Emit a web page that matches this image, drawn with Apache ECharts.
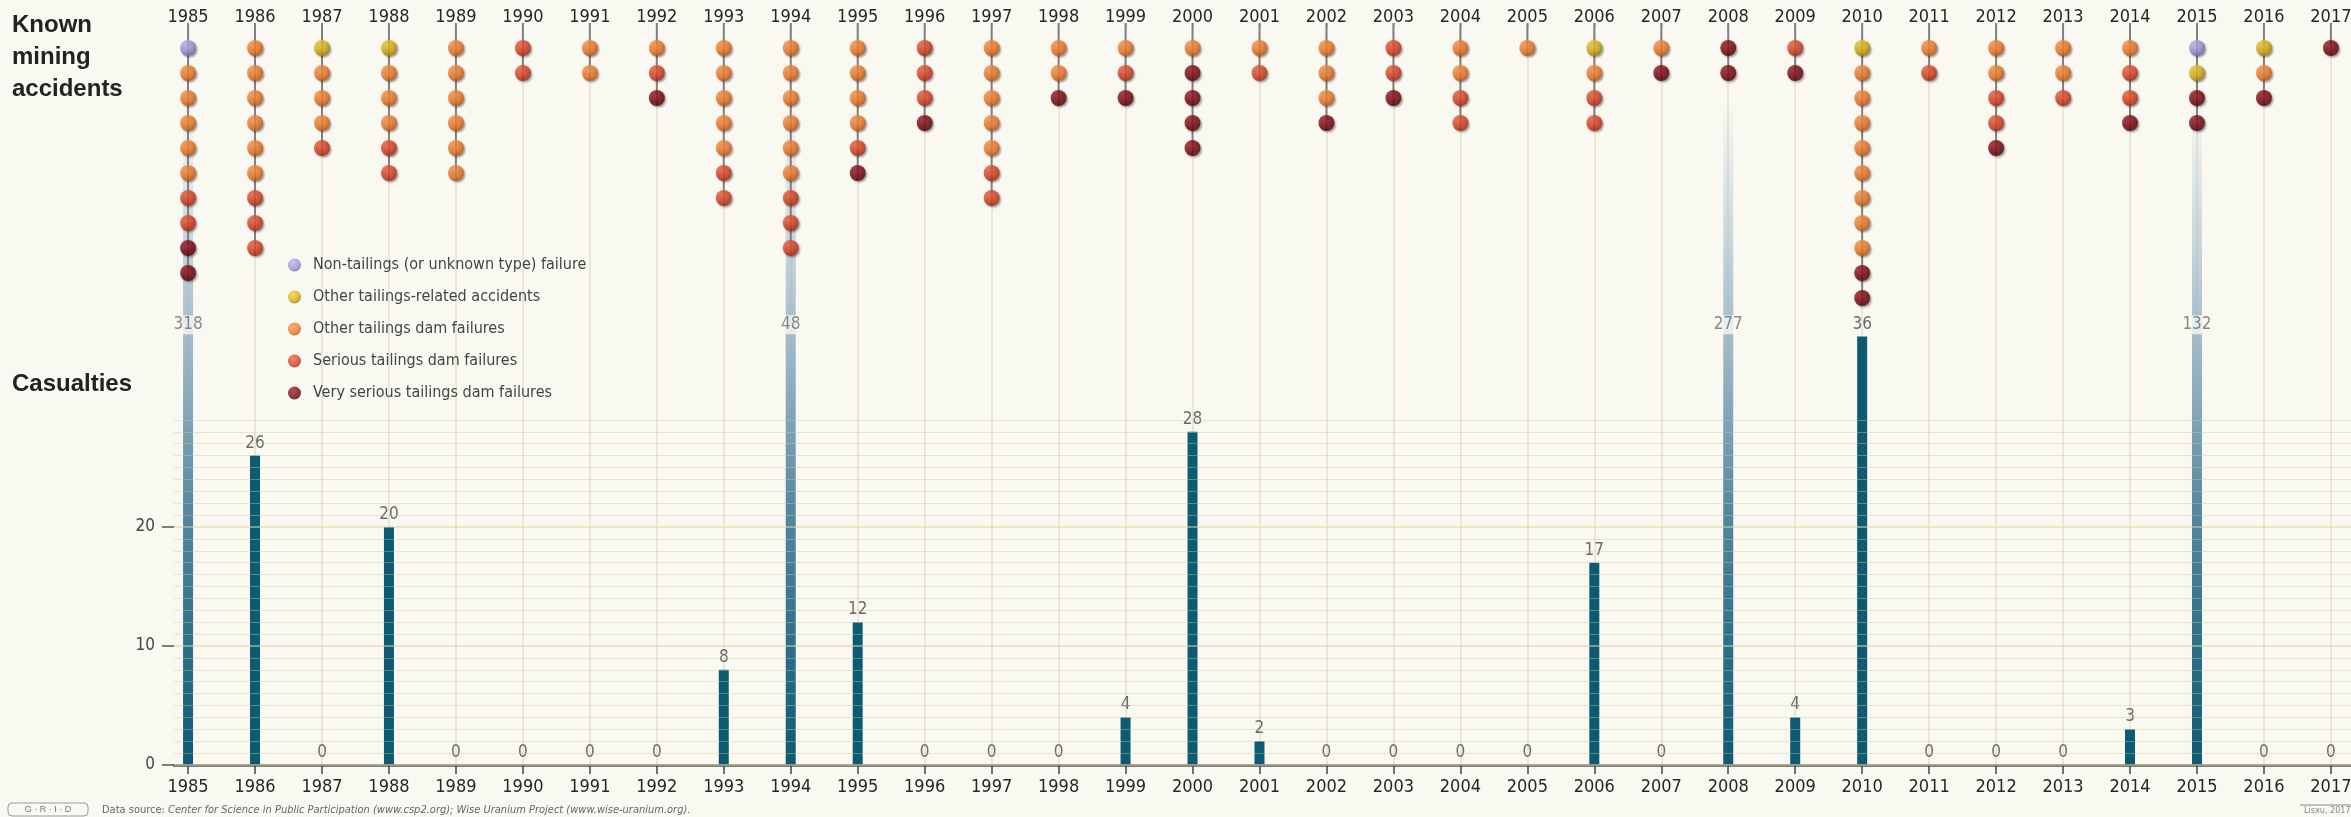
<!DOCTYPE html>
<html>
<head>
<meta charset="utf-8">
<script src="https://cdn.jsdelivr.net/npm/echarts@6/dist/echarts.min.js"></script>
<style>
html,body{margin:0;padding:0;background:#f9f8f1;}
#chart{width:2351px;height:817px;}
</style>
</head>
<body>
<div id="chart"></div>
<script>
// ---------------- DATA ----------------
const years = [1985,1986,1987,1988,1989,1990,1991,1992,1993,1994,1995,1996,1997,1998,1999,2000,2001,2002,2003,2004,2005,2006,2007,2008,2009,2010,2011,2012,2013,2014,2015,2016,2017];
// number of accidents per year, by type (stacked from the top in this order)
const nonTailings  = [1,0,0,0,0,0,0,0,0,0,0,0,0,0,0,0,0,0,0,0,0,0,0,0,0,0,0,0,0,0,1,0,0];
const otherRelated = [0,0,1,1,0,0,0,0,0,0,0,0,0,0,0,0,0,0,0,0,0,1,0,0,0,1,0,0,0,0,1,1,0];
const otherDam     = [5,6,3,3,6,0,2,1,5,6,4,0,5,2,1,1,1,3,0,2,1,1,1,0,0,8,1,2,2,1,0,1,0];
const serious      = [2,3,1,2,0,2,0,1,2,3,1,3,2,0,1,0,1,0,2,2,0,2,0,0,1,0,1,2,1,2,0,0,0];
const verySerious  = [2,0,0,0,0,0,0,1,0,0,1,1,0,1,1,4,0,1,1,0,0,0,1,2,1,2,0,1,0,1,2,1,1];
const casualties   = [318,26,0,20,0,0,0,0,8,48,12,0,0,0,4,28,2,0,0,0,0,17,0,277,4,36,0,0,0,3,132,0,0];
const casualtyTicks = [0,10,20];

// ---------------- LAYOUT / STYLE CONSTANTS ----------------
const X_MIN = 1984.79, X_MAX = 2017.30;
const BAR_CAP = 36;       // bars above this are drawn as fading overflow bars
const OVER_TOP = 56;      // visual top of overflow bars
const OVER_LABEL = 37;    // position of overflow value labels
const NARROW = "'Liberation Sans Narrow','DejaVu Sans Condensed','Roboto Condensed',sans-serif";
const SANS = "'Liberation Sans',Arial,sans-serif";
const BG = '#f9f8f1';

const cats = [
  {name:'Non-tailings (or unknown type) failure', counts: nonTailings, c:['#c2bcee','#9c94d8','#6a62a4']},
  {name:'Other tailings-related accidents',       counts: otherRelated, c:['#f0d04a','#d9b111','#977804']},
  {name:'Other tailings dam failures',            counts: otherDam,    c:['#fa9c55','#f27a28','#b35217']},
  {name:'Serious tailings dam failures',          counts: serious,     c:['#ef6a48','#db4125','#9a2914']},
  {name:'Very serious tailings dam failures',     counts: verySerious, c:['#a3222a','#7b0b13','#480408']}
];

const rowFill = years.map(() => 0);
const dotSeries = cats.map(cat => {
  const data = [];
  years.forEach((y, i) => {
    for (let k = 0; k < cat.counts[i]; k++) {
      rowFill[i] += 1;
      data.push([y, rowFill[i]]);
    }
  });
  return {
    type: 'scatter', name: cat.name, xAxisIndex: 0, yAxisIndex: 0,
    data: data, symbol: 'circle', symbolSize: 16, z: 6, clip: false,
    itemStyle: {
      color: new echarts.graphic.RadialGradient(0.38, 0.33, 0.75, [
        {offset: 0, color: cat.c[0]}, {offset: 0.55, color: cat.c[1]}, {offset: 1, color: cat.c[2]}
      ]),
      shadowColor: 'rgba(0,0,0,0.45)', shadowBlur: 2, shadowOffsetX: 1.5, shadowOffsetY: 1.5
    },
    emphasis: {disabled: true}
  };
});
const totals = rowFill.slice();

const overflowGradient = new echarts.graphic.LinearGradient(0, 0, 0, 1, [
  {offset: 0, color: 'rgba(175,195,208,0)'},
  {offset: 0.3, color: 'rgba(160,185,202,0.8)'},
  {offset: 0.62, color: '#5486a0'},
  {offset: 1, color: '#0d5a73'}
]);

const barData = casualties.map((v, i) => v > BAR_CAP
  ? {value: [years[i], OVER_TOP], itemStyle: {color: overflowGradient}, label: {show: false}}
  : {value: [years[i], v]});
const overflowLabels = [];
casualties.forEach((v, i) => { if (v > BAR_CAP) overflowLabels.push([years[i], OVER_LABEL, v]); });

const vLines = years.map(y => ({xAxis: y}));
const yearFmt = v => String(Math.round(v));

const chart = echarts.init(document.getElementById('chart'), null, {renderer: 'canvas'});
chart.setOption({
  backgroundColor: BG,
  animation: false,
  title: [
    {text: 'Known\nmining\naccidents', left: 12, top: 9, padding: 0,
     textStyle: {fontFamily: SANS, fontSize: 24, fontWeight: 'bold', color: '#222', lineHeight: 32}},
    {text: 'Casualties', left: 12, top: 368, padding: 0,
     textStyle: {fontFamily: SANS, fontSize: 24, fontWeight: 'bold', color: '#222', lineHeight: 32}}
  ],
  legend: {
    orient: 'vertical', left: 288, top: 257, padding: 0,
    itemWidth: 13, itemHeight: 13, itemGap: 16,
    icon: 'circle',
    data: cats.map(c => c.name),
    textStyle: {fontFamily: NARROW, fontSize: 16, color: '#444', padding: [0, 0, 0, 7]},
    selectedMode: false
  },
  grid: [
    {left: 174, right: 0, top: 23, height: 385, outerBoundsMode: 'none'},
    {left: 174, right: 0, top: 408, height: 357, outerBoundsMode: 'none'}
  ],
  xAxis: [
    {gridIndex: 0, type: 'value', min: X_MIN, max: X_MAX, position: 'top', offset: 23,
     axisLine: {show: false},
     axisTick: {show: true, inside: true, length: 5, customValues: years, lineStyle: {color: '#555', width: 1.5}},
     axisLabel: {inside: true, margin: 8, customValues: years, formatter: yearFmt, fontFamily: NARROW, fontSize: 18, color: '#262626'},
     splitLine: {show: false}},
    {gridIndex: 1, type: 'value', min: X_MIN, max: X_MAX, position: 'bottom', z: 3,
     axisLine: {show: true, onZero: false, lineStyle: {color: '#555', width: 2.5}},
     axisTick: {show: true, length: 9, customValues: years, lineStyle: {color: '#444', width: 1.5}},
     axisLabel: {margin: 13, customValues: years, formatter: yearFmt, fontFamily: NARROW, fontSize: 18, color: '#262626'},
     splitLine: {show: false}}
  ],
  yAxis: [
    {gridIndex: 0, type: 'value', inverse: true, min: 0, max: 15.4, show: false},
    {gridIndex: 1, type: 'value', min: 0, max: 30, interval: 10, z: 4,
     axisLine: {show: false},
     axisTick: {show: true, length: 12, customValues: casualtyTicks, lineStyle: {color: '#555', width: 1.5}},
     axisLabel: {margin: 19, customValues: casualtyTicks, fontFamily: NARROW, fontSize: 17, color: '#444'},
     splitLine: {show: true, lineStyle: {color: 'rgba(218,214,160,0.7)', width: 1.5}},
     minorTick: {show: false, splitNumber: 10},
     minorSplitLine: {show: true, lineStyle: {color: 'rgba(205,202,150,0.4)', width: 1}}}
  ],
  graphic: [
    {type: 'rect', shape: {x: 8, y: 803, width: 80, height: 13, r: 4},
     style: {fill: 'none', stroke: '#9a9a9a', lineWidth: 1}, silent: true},
    {type: 'text', x: 48, y: 809.5, silent: true,
     style: {text: 'G · R · I · D', fontSize: 9, fill: '#777', align: 'center', verticalAlign: 'middle', fontFamily: SANS}},
    {type: 'text', x: 102, y: 810, silent: true,
     style: {text: '{a|Data source: }{b|Center for Science in Public Participation (www.csp2.org); Wise Uranium Project (www.wise-uranium.org).}',
             verticalAlign: 'middle', fontFamily: NARROW, fontSize: 11, fill: '#666',
             rich: {a: {fontFamily: NARROW, fontSize: 11, fill: '#666'}, b: {fontFamily: NARROW, fontSize: 11, fill: '#666', fontStyle: 'italic'}}}},
    {type: 'line', shape: {x1: 2300, y1: 805, x2: 2351, y2: 805}, style: {stroke: '#888', lineWidth: 1}, silent: true},
    {type: 'text', x: 2304, y: 811, silent: true,
     style: {text: 'Lisxu, 2017', fontSize: 9, fill: '#888', verticalAlign: 'middle', fontFamily: NARROW}}
  ],
  series: [
    // faint year guide lines, top panel
    {type: 'line', xAxisIndex: 0, yAxisIndex: 0, data: [], z: 1, silent: true,
     markLine: {silent: true, z: 1, symbol: 'none', animation: false, label: {show: false},
                lineStyle: {color: '#e4e2cf', width: 1.5, type: 'solid'}, data: vLines}},
    // faint year guide lines, bottom panel
    {type: 'line', xAxisIndex: 1, yAxisIndex: 1, data: [], z: 1, silent: true,
     markLine: {silent: true, z: 1, symbol: 'none', animation: false, label: {show: false},
                lineStyle: {color: '#e4e2cf', width: 1.5, type: 'solid'}, data: vLines}},
    // stems of the accident columns
    {type: 'bar', xAxisIndex: 0, yAxisIndex: 0, stack: 'stem', barWidth: 2, z: 3, silent: true,
     itemStyle: {color: 'rgba(0,0,0,0)'}, data: years.map(y => [y, 0.3])},
    {type: 'bar', xAxisIndex: 0, yAxisIndex: 0, stack: 'stem', barWidth: 2, z: 3, silent: true,
     itemStyle: {color: '#808080'}, data: years.map((y, i) => [y, totals[i] + 0.3])},
    ...dotSeries,
    // casualties bars
    {type: 'bar', name: 'Casualties', xAxisIndex: 1, yAxisIndex: 1, barWidth: 10, z: 2, clip: false,
     itemStyle: {color: '#0d5a73'},
     label: {show: true, position: 'top', distance: 4, fontFamily: NARROW, fontSize: 17, color: '#6b6b6b',
             formatter: p => p.value[1]},
     data: barData},
    // labels for overflowing bars
    {type: 'scatter', xAxisIndex: 1, yAxisIndex: 1, symbolSize: 0, z: 5, clip: false, silent: true,
     label: {show: true, position: 'inside', fontFamily: NARROW, fontSize: 17, color: '#6b6b6b',
             backgroundColor: BG, padding: [1, 2], formatter: p => p.value[2]},
     data: overflowLabels}
  ]
});
</script>
</body>
</html>
